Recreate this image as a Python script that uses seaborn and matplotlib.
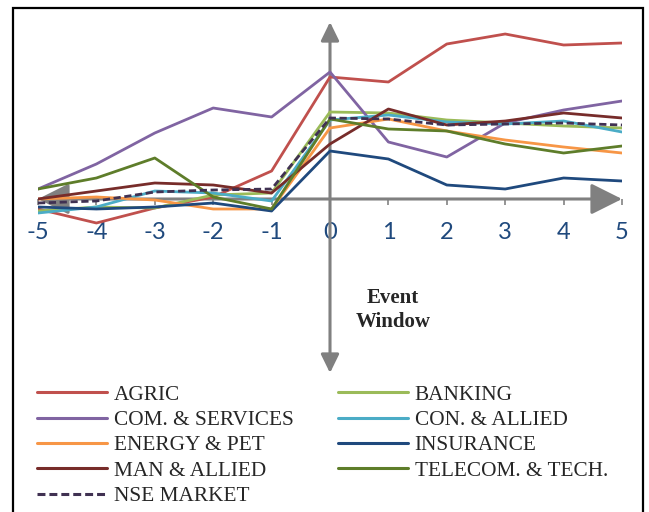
import numpy as np
import pandas as pd
import seaborn as sns
import matplotlib.pyplot as plt
from matplotlib.patches import Rectangle
from matplotlib.lines import Line2D

sns.set_style("white")
plt.rcParams["axes.unicode_minus"] = False

# event window days
days = [-5, -4, -3, -2, -1, 0, 1, 2, 3, 4, 5]

# cumulative abnormal returns per sector
agric = [-1.0, -2.4, -0.9, 0.2, 2.8, 12.2, 11.7, 15.5, 16.5, 15.4, 15.6]
banking = [-1.2, -0.8, -0.9, 0.4, 0.6, 8.7, 8.6, 7.9, 7.6, 7.3, 7.1]
com_services = [1.0, 3.5, 6.6, 9.1, 8.2, 12.7, 5.7, 4.2, 7.6, 8.9, 9.8]
con_allied = [-1.4, -0.8, 0.8, 0.6, -0.2, 7.9, 8.4, 7.7, 7.5, 7.8, 6.7]
energy_pet = [0.0, 0.2, -0.1, -1.0, -1.0, 7.1, 8.0, 6.8, 5.9, 5.2, 4.6]
insurance = [-0.8, -1.0, -0.8, -0.4, -1.2, 4.8, 4.0, 1.4, 1.0, 2.1, 1.8]
man_allied = [0.0, 0.8, 1.6, 1.4, 0.6, 5.5, 9.0, 7.4, 7.8, 8.6, 8.1]
telecom = [1.0, 2.1, 4.1, 0.2, -1.0, 8.0, 7.0, 6.8, 5.5, 4.6, 5.3]
nse_market = [-0.4, -0.2, 0.7, 0.9, 1.0, 8.1, 8.0, 7.4, 7.5, 7.6, 7.4]

sectors = ["AGRIC", "BANKING", "COM. & SERVICES", "CON. & ALLIED", "ENERGY & PET",
           "INSURANCE", "MAN & ALLIED", "TELECOM. & TECH.", "NSE MARKET"]
values = [agric, banking, com_services, con_allied, energy_pet,
          insurance, man_allied, telecom, nse_market]
colors = ["#C0504D", "#9BBB59", "#8064A2", "#4BACC6", "#F79646",
          "#1F497D", "#772C2A", "#5E7D2A", "#403152"]

df = pd.DataFrame({
    "day": days * len(sectors),
    "car": np.concatenate(values),
    "sector": np.repeat(sectors, len(days)),
})

fig = plt.figure(figsize=(6.49, 5.12), dpi=100)
W, H = 649, 512
ax = fig.add_axes([38 / W, 1 - 373 / H, 584 / W, 351 / H])

handles = {}
for name, col in zip(sectors, colors):
    sub = df[df["sector"] == name]
    ls = "--" if name == "NSE MARKET" else "-"
    sns.lineplot(data=sub, x="day", y="car", color=col, linewidth=2.0,
                 linestyle=ls, ax=ax, zorder=3)
    ln = ax.get_lines()[-1]
    if ls == "--":
        ln.set_dashes((2.6, 1.3))
    handles[name] = Line2D([], [], color=col, linewidth=2.2, linestyle=ls,
                           dashes=(2.6, 1.3) if ls == "--" else (None, None))

ax.set_xlim(-5, 5)
ax.set_ylim(-17.4, 17.7)
ax.set_xlabel("")
ax.set_ylabel("")
ax.set_yticks([])
ax.set_xticks(days)
ax.patch.set_visible(False)
for s in ax.spines.values():
    s.set_visible(False)
ax.spines["bottom"].set_position(("data", 0))
ax.tick_params(axis="x", bottom=True, direction="out", length=4, width=1.3,
               color="#8C8C8C", pad=12.5, labelsize=17, labelcolor="#1F497D")
for t in ax.get_xticklabels():
    t.set_fontfamily("Lato")

# axis arrows
grey = "#808080"
ax.annotate("", xy=(5, 0), xytext=(-5, 0),
            arrowprops=dict(arrowstyle="<|-|>,head_length=0.4,head_width=0.2",
                            color=grey, lw=2.2, mutation_scale=48,
                            shrinkA=0, shrinkB=0), zorder=2)
ax.annotate("", xy=(0, 17.7), xytext=(0, -17.4),
            arrowprops=dict(arrowstyle="<|-|>,head_length=0.45,head_width=0.22",
                            color=grey, lw=2.2, mutation_scale=25,
                            shrinkA=0, shrinkB=0), zorder=2)

ax.text(1.08, -10.4, "Event", ha="center", va="baseline", fontsize=15,
        fontweight="bold", fontfamily="Liberation Serif")
ax.text(1.08, -12.8, "Window", ha="center", va="baseline", fontsize=15,
        fontweight="bold", fontfamily="Liberation Serif")

# legend, two columns
col1 = ["AGRIC", "COM. & SERVICES", "ENERGY & PET", "MAN & ALLIED", "NSE MARKET"]
col2 = ["BANKING", "CON. & ALLIED", "INSURANCE", "TELECOM. & TECH."]
leg_kw = dict(loc="upper left", frameon=False, borderpad=0, borderaxespad=0,
              handlelength=3.3, handletextpad=0.3, labelspacing=0.255,
              prop={"family": "Liberation Serif", "size": 15.3})
leg1 = fig.legend([handles[n] for n in col1], col1,
                  bbox_to_anchor=(37 / W, 1 - 385 / H), **leg_kw)
leg2 = fig.legend([handles[n] for n in col2], col2,
                  bbox_to_anchor=(338 / W, 1 - 385 / H), **leg_kw)

# outer frame
fig.patches.append(Rectangle((13 / W, -0.05), 630 / W, 1.05 - 8 / H,
                             transform=fig.transFigure, fill=False,
                             edgecolor="black", linewidth=1.6))

fig.savefig("out.png", dpi=100)
